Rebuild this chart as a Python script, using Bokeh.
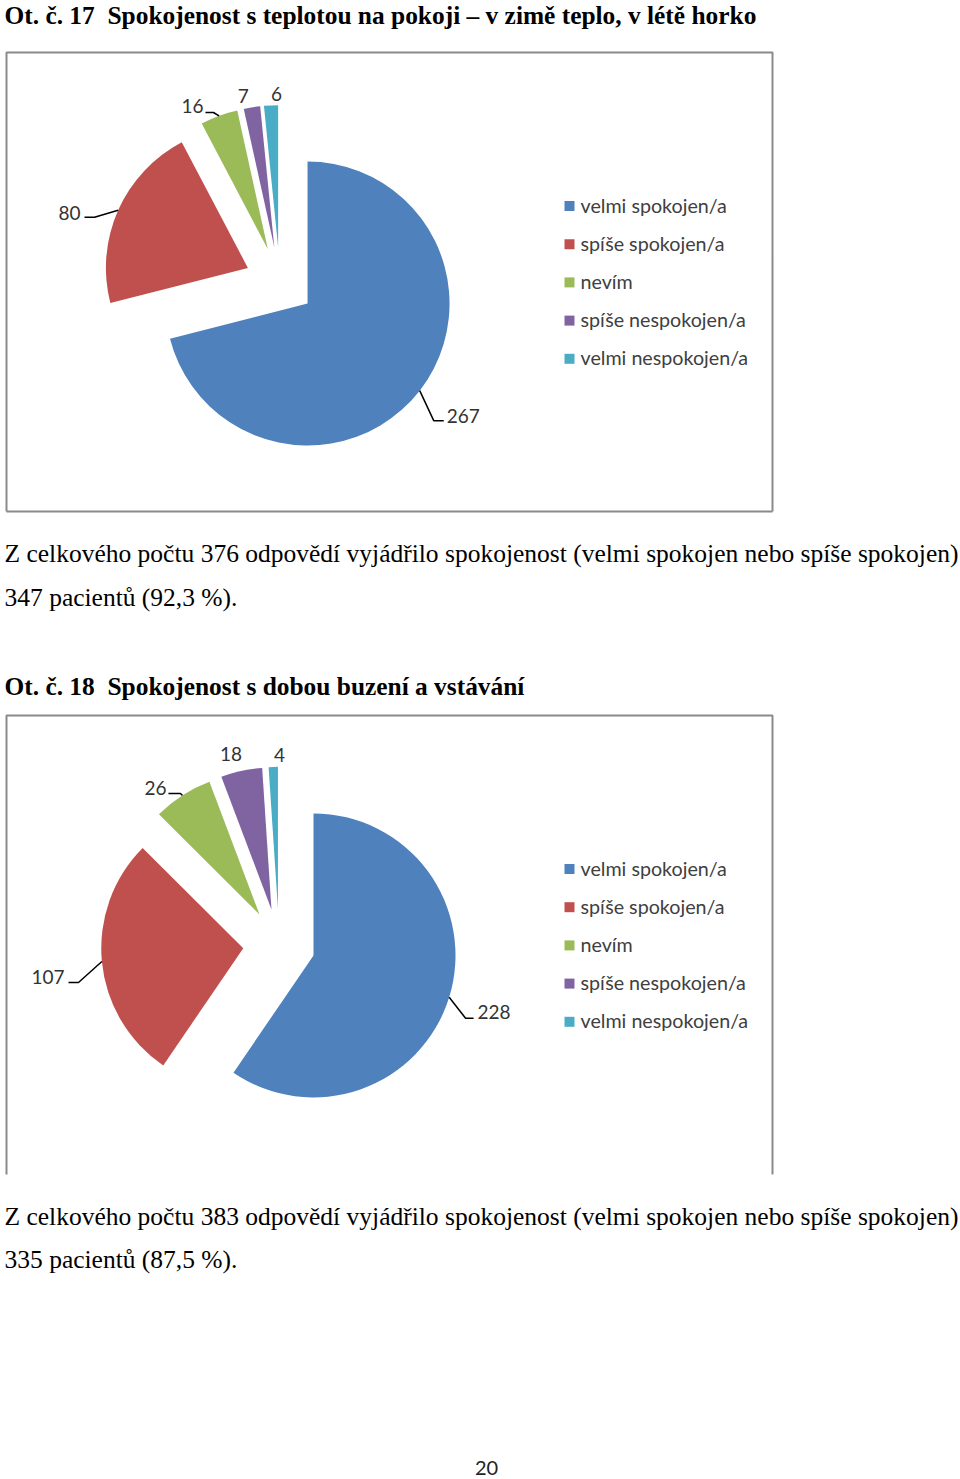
import math
from bokeh.plotting import figure
from bokeh.models import Range1d, ColumnDataSource
from bokeh.core.properties import value
from bokeh.embed import file_html
from bokeh.resources import INLINE

# ---------------- data ----------------
categories = ["velmi spokojen/a", "spíše spokojen/a", "nevím",
              "spíše nespokojen/a", "velmi nespokojen/a"]
colors = ["#4F81BD", "#C0504D", "#9BBB59", "#8064A2", "#4BACC6"]

q17_values = [267, 80, 16, 7, 6]
q18_values = [228, 107, 26, 18, 4]

q17_title = "Ot. č. 17\u00a0 Spokojenost s teplotou na pokoji – v zimě teplo, v létě horko"
q18_title = "Ot. č. 18\u00a0 Spokojenost s dobou buzení a vstávání"
q17_text = ["Z celkového počtu 376 odpovědí vyjádřilo spokojenost (velmi spokojen nebo spíše spokojen)",
            "347 pacientů (92,3 %)."]
q18_text = ["Z celkového počtu 383 odpovědí vyjádřilo spokojenost (velmi spokojen nebo spíše spokojen)",
            "335 pacientů (87,5 %)."]
page_number = "20"

# ---------------- layout ----------------
W, H = 960, 1479
def Y(py):
    return H - py

p = figure(width=W, height=H, x_range=Range1d(0, W), y_range=Range1d(0, H),
           x_axis_type=None, y_axis_type=None, toolbar_location=None,
           output_backend="svg", min_border=0)
p.outline_line_color = None
p.grid.visible = False
p.background_fill_color = "white"
p.border_fill_color = "white"

SERIF = value("Liberation Serif")
SANS = value("Lato")
LABEL_COLOR = "#333333"

def draw_text(x, py, txt, size, font=SERIF, style="normal", align="left", color="black",
              baseline="middle"):
    p.text(x=[x], y=[Y(py)], text=[txt], text_font=font, text_font_size=f"{size}px",
           text_font_style=style, text_align=align, text_baseline=baseline, text_color=color)

def frame(x0, y0, x1, y1, bottom=True):
    xs = [x0, x0, x1, x1]
    ys = [Y(y1), Y(y0), Y(y0), Y(y1)]
    p.line(xs, ys, line_color="#8a8a8a", line_width=2)
    if bottom:
        p.line([x0, x1], [Y(y1), Y(y1)], line_color="#8a8a8a", line_width=2)

def pie(values, cx, cy, d, R, label_specs, legend_top):
    total = float(sum(values))
    acc = 0.0
    xs, ys, st, en = [], [], [], []
    mids = []
    for v in values:
        phi0 = acc / total * 360.0
        acc += v
        phi1 = acc / total * 360.0
        bis = math.radians((phi0 + phi1) / 2)
        vx = cx + d * math.sin(bis)
        vy = cy - d * math.cos(bis)
        xs.append(vx); ys.append(Y(vy))
        st.append(math.radians(90 - phi1)); en.append(math.radians(90 - phi0))
        mids.append((vx + R * math.sin(bis), vy - R * math.cos(bis)))
    src = ColumnDataSource(dict(x=xs, y=ys, s=st, e=en, c=colors[:len(values)]))
    p.wedge(x="x", y="y", radius=R, start_angle="s", end_angle="e",
            fill_color="c", line_color=None, source=src)
    # data labels
    for v, (mx, my), spec in zip(values, mids, label_specs):
        lead, (tx, ty, align) = spec
        if lead:
            lx = [mx] + [mx + a for a, b in lead]
            ly = [Y(my)] + [Y(my + b) for a, b in lead]
            p.line(lx, ly, line_color="black", line_width=1.5)
        draw_text(mx + tx, my + ty, str(v), 19, font=SANS, align=align, color=LABEL_COLOR)
    # legend
    step = 38.2
    for i, (cat, col) in enumerate(zip(categories, colors)):
        yy = legend_top + i * step
        p.rect(x=[569], y=[Y(yy)], width=10, height=10, fill_color=col, line_color=None)
        draw_text(580, yy - 1, cat, 19.7, font=SANS, color="#404040")

# ---- question 17 ----
draw_text(4, 14, q17_title, 25.4, style="bold")
frame(6, 52, 772, 511)
pie(q17_values, 279.4, 281.6, 35, 142,
    [([(14, 30), (24, 30)], (27, 25, "left")),
     ([(-23.6, 7), (-33.6, 7)], (-37.6, 3, "right")),
     ([(-5.6, -3.4), (-13.6, -3.4)], (-15.6, -9.4, "right")),
     (None, (-8.7, -11.8, "center")),
     (None, (5.5, -11.8, "center"))],
    205.5)
draw_text(4, 553, q17_text[0], 25.5)
draw_text(4, 597, q17_text[1], 25.5)

# ---- question 18 ----
draw_text(4, 685, q18_title, 25.4, style="bold")
frame(6, 715, 772, 1174, bottom=False)
pie(q18_values, 278.6, 944.3, 36, 142,
    [([(16.4, 21), (24.4, 21)], (28.4, 15, "left")),
     ([(-23.4, 21), (-33.4, 21)], (-37.4, 15, "right")),
     ([(-2, -1.8), (-14, -1.8)], (-16, -7.8, "right")),
     (None, (-10.5, -16.4, "center")),
     (None, (6.3, -11.4, "center"))],
    868.5)
draw_text(4, 1216, q18_text[0], 25.5)
draw_text(4, 1259, q18_text[1], 25.5)

draw_text(486, 1467, page_number, 20, font=SANS, align="center", color="#222222")

open("out.html", "w").write(file_html(p, INLINE))
